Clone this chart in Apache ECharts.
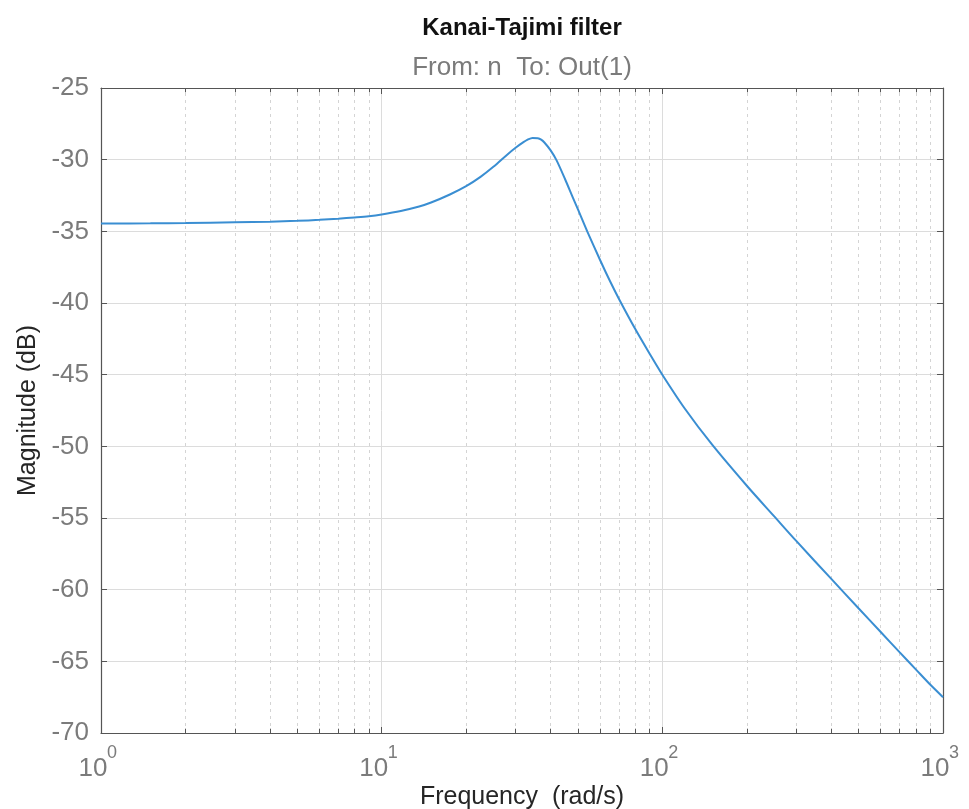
<!DOCTYPE html>
<html>
<head>
<meta charset="utf-8">
<title>Kanai-Tajimi filter</title>
<script src="https://cdn.jsdelivr.net/npm/echarts@6/dist/echarts.min.js"></script>
<style>
  html, body { margin: 0; padding: 0; background: #ffffff; }
  #chart { width: 969px; height: 809px; }
</style>
</head>
<body>
<div id="chart"></div>
<script>
// Bode magnitude of the Kanai-Tajimi ground filter
const frequency = [1, 1.5, 2, 3, 4, 5, 6, 7, 8, 9, 10, 11.7, 13.6, 15, 17.5, 20, 22.5, 25, 28, 30,
  32, 33, 34.5, 36, 37, 38, 40, 42, 45, 48, 50, 54, 60, 65, 70, 80, 90, 100, 120, 150,
  200, 250, 300, 400, 500, 600, 700, 800, 900, 1000];
const magnitudeDb = [-34.45, -34.44, -34.42, -34.37, -34.33, -34.27, -34.2, -34.12, -34.03, -33.94,
  -33.82, -33.58, -33.27, -32.99, -32.43, -31.85, -31.2, -30.5, -29.65, -29.17,
  -28.78, -28.62, -28.48, -28.5, -28.6, -28.8, -29.35, -30.05, -31.35, -32.65,
  -33.45, -35.0, -37.0, -38.45, -39.7, -41.8, -43.52, -45.0, -47.34, -49.85,
  -52.75, -54.87, -56.6, -59.25, -61.3, -62.95, -64.36, -65.56, -66.62, -67.5];

// axis extents and tick spacing
const freqRange = [1, 1000];
const magRange = [-70, -25];
const magStep = 5;
// minor decade subdivisions (2..9 within each decade)
const minorFreqs = [2, 3, 4, 5, 6, 7, 8, 9, 20, 30, 40, 50, 60, 70, 80, 90, 200, 300, 400, 500, 600, 700, 800, 900];

const FONT = '"Liberation Sans", Arial, Helvetica, sans-serif';
const BOX = '#555555';
const TICKTXT = '#7b7b7b';
const GRID = '#dcdcdc';

const chart = echarts.init(document.getElementById('chart'), null, { renderer: 'canvas' });

const curve = frequency.map((f, i) => [f, magnitudeDb[i]]);

// dotted minor grid lines
const minorGrid = minorFreqs.map(f => [{ coord: [f, magRange[0]] }, { coord: [f, magRange[1]] }]);
// short minor tick marks on bottom and top edges
const tickLen = 0.3;
const minorTicks = [];
minorFreqs.forEach(f => {
  minorTicks.push([{ coord: [f, magRange[0]] }, { coord: [f, magRange[0] + tickLen] }]);
  minorTicks.push([{ coord: [f, magRange[1]] }, { coord: [f, magRange[1] - tickLen] }]);
});

const logAxisBase = {
  type: 'log', logBase: 10, min: freqRange[0], max: freqRange[1]
};
const boxLine = { show: true, lineStyle: { color: BOX, width: 1.2 } };
const innerTick = { show: true, inside: true, length: 6, lineStyle: { color: BOX } };

chart.setOption({
  animation: false,
  backgroundColor: '#ffffff',
  grid: { left: 101, right: 26, top: 88, bottom: 76, containLabel: false, outerBoundsMode: 'none' },
  graphic: [
    { type: 'text', x: 522, y: 28, style: { text: 'Kanai-Tajimi filter', font: 'bold 24px ' + FONT, fill: '#111111', textAlign: 'center', textVerticalAlign: 'middle' } },
    { type: 'text', x: 522, y: 68, style: { text: 'From: n  To: Out(1)', font: '26px ' + FONT, fill: '#7b7b7b', textAlign: 'center', textVerticalAlign: 'middle' } }
  ],
  xAxis: [
    Object.assign({}, logAxisBase, {
      position: 'bottom',
      axisLine: boxLine, axisTick: innerTick,
      // mantissa "10" of each decade label
      axisLabel: { show: true, margin: 23, fontSize: 26, color: TICKTXT, fontFamily: FONT, align: 'center', padding: [0, 16, 0, 0], formatter: () => '10' },
      splitLine: { show: true, lineStyle: { color: GRID, width: 1 } },
      name: 'Frequency  (rad/s)', nameLocation: 'middle', nameGap: 52, nameMoveOverlap: false,
      nameTextStyle: { fontSize: 25, color: '#262626', fontFamily: FONT }
    }),
    Object.assign({}, logAxisBase, {
      position: 'bottom',
      axisLine: { show: false }, axisTick: { show: false }, splitLine: { show: false },
      // decade exponent as superscript
      axisLabel: { show: true, margin: 11, fontSize: 18, color: TICKTXT, fontFamily: FONT, align: 'left', padding: [0, 0, 0, 6], formatter: v => String(Math.round(Math.log10(v))) }
    }),
    Object.assign({}, logAxisBase, {
      position: 'top',
      axisLine: boxLine, axisTick: innerTick,
      axisLabel: { show: false }, splitLine: { show: false }
    })
  ],
  yAxis: [
    {
      type: 'value', min: magRange[0], max: magRange[1], interval: magStep, position: 'left',
      axisLine: boxLine, axisTick: innerTick,
      axisLabel: { show: true, margin: 12, fontSize: 26, color: TICKTXT, fontFamily: FONT },
      splitLine: { show: true, lineStyle: { color: GRID, width: 1 } },
      name: 'Magnitude (dB)', nameLocation: 'middle', nameGap: 59, nameRotate: 90,
      nameTextStyle: { fontSize: 25, color: '#262626', fontFamily: FONT }
    },
    {
      type: 'value', min: magRange[0], max: magRange[1], interval: magStep, position: 'right',
      axisLine: boxLine, axisTick: innerTick,
      axisLabel: { show: false }, splitLine: { show: false }
    }
  ],
  series: [
    {
      name: 'minor grid', type: 'line', data: [], z: 1, silent: true,
      markLine: {
        silent: true, symbol: ['none', 'none'], label: { show: false }, animation: false,
        lineStyle: { color: '#d4d4d4', width: 1, type: [3, 4] },
        emphasis: { disabled: true },
        data: minorGrid
      }
    },
    {
      name: 'minor ticks', type: 'line', data: [], z: 2, silent: true,
      markLine: {
        silent: true, symbol: ['none', 'none'], label: { show: false }, animation: false,
        lineStyle: { color: BOX, width: 1, type: 'solid' },
        emphasis: { disabled: true },
        data: minorTicks
      }
    },
    {
      name: 'Magnitude', type: 'line', data: curve, z: 5,
      showSymbol: false, smooth: 0.3,
      lineStyle: { color: '#3a8ed2', width: 2 },
      emphasis: { disabled: true }
    }
  ]
});
</script>
</body>
</html>
